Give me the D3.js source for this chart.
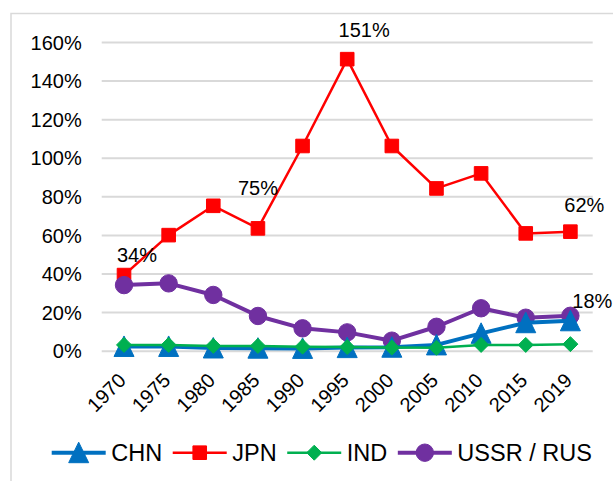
<!DOCTYPE html>
<html>
<head>
<meta charset="utf-8">
<script src="https://cdn.jsdelivr.net/npm/d3@7"></script>
<style>
  html, body { margin: 0; padding: 0; background: #fff; }
  svg { display: block; font-family: "Liberation Sans", Arial, sans-serif; }
</style>
</head>
<body>
<svg id="chart" width="613" height="481"></svg>
<script>
// ---- data ----
const years = ["1970","1975","1980","1985","1990","1995","2000","2005","2010","2015","2019"];
const chn  = [0.022, 0.022, 0.014, 0.013, 0.012, 0.016, 0.018, 0.030, 0.090, 0.145, 0.155];
const jpn  = [0.392, 0.599, 0.751, 0.634, 1.061, 1.511, 1.061, 0.841, 0.919, 0.608, 0.617];
const ind  = [0.030, 0.030, 0.025, 0.025, 0.021, 0.019, 0.016, 0.015, 0.030, 0.030, 0.034];
const ussr = [0.340, 0.349, 0.289, 0.180, 0.116, 0.095, 0.052, 0.124, 0.220, 0.171, 0.181];
const yTicks = [0, 0.2, 0.4, 0.6, 0.8, 1.0, 1.2, 1.4, 1.6];
const seriesNames = ["CHN", "JPN", "IND", "USSR / RUS"];
const labelTexts = ["34%", "75%", "151%", "62%", "18%"];

const svg = d3.select("#chart");

// frame
svg.append("rect").attr("x", 11).attr("y", 13.5).attr("width", 640).attr("height", 500)
  .attr("fill", "none").attr("stroke", "#d9d9d9").attr("stroke-width", 1.5);

const x = d3.scaleBand().domain(years).range([101.7, 592.7]).paddingInner(0).paddingOuter(0);
const cx = d => x(d) + x.bandwidth() / 2;
const y = d3.scaleLinear().domain([0, 1.6]).range([350.7, 42]);

// y axis with gridlines
const yAxis = d3.axisLeft(y).tickValues(yTicks).tickFormat(d3.format(".0%"))
  .tickSize(-(592.7 - 101.7)).tickPadding(20);
const gy = svg.append("g").attr("transform", "translate(101.7,0)").call(yAxis);
gy.select(".domain").remove();
gy.selectAll(".tick line").attr("stroke", "#d9d9d9").attr("stroke-width", 2);
gy.selectAll(".tick text").attr("fill", "#000").style("font-size", "20px")
  .style("font-family", "Liberation Sans, Arial, sans-serif").attr("dy", "0.36em");

// x axis labels
const xAxis = d3.axisBottom(x).tickSize(0).tickPadding(0);
const gx = svg.append("g").attr("transform", "translate(0,350.7)").call(xAxis);
gx.select(".domain").remove();
gx.selectAll(".tick text")
  .attr("fill", "#000").style("font-size", "20px")
  .style("font-family", "Liberation Sans, Arial, sans-serif")
  .attr("text-anchor", "end").attr("dy", null).attr("y", null)
  .attr("transform", "translate(3,31) rotate(-45)");

// marker shapes
function markerPath(kind) {
  if (kind === "tri") return "M0,-10.5L10,10L-10,10Z";
  if (kind === "sq") return "M-6.8,-6.8H6.8V6.8H-6.8Z";
  if (kind === "dia") return "M0,-7.5L7.5,0L0,7.5L-7.5,0Z";
  if (kind === "cir") return d3.symbol(d3.symbolCircle, Math.PI * 8.7 * 8.7)();
}

const series = [
  { name: seriesNames[1], values: jpn,  color: "#FF0000", lw: 2.5, shape: "sq" },
  { name: seriesNames[3], values: ussr, color: "#7030A0", lw: 4,   shape: "cir" },
  { name: seriesNames[0], values: chn,  color: "#0070C0", lw: 4,   shape: "tri" },
  { name: seriesNames[2], values: ind,  color: "#00B050", lw: 2.5, shape: "dia" }
];

const line = d3.line().x((d, i) => cx(years[i])).y(d => y(d));

series.forEach(s => {
  const g = svg.append("g");
  g.append("path").datum(s.values).attr("d", line)
    .attr("fill", "none").attr("stroke", s.color).attr("stroke-width", s.lw)
    .attr("stroke-linejoin", "round");
  g.selectAll("path.m").data(s.values).join("path").attr("class", "m")
    .attr("d", markerPath(s.shape))
    .attr("transform", (d, i) => `translate(${cx(years[i])},${y(d)})`)
    .attr("fill", s.color).attr("stroke", s.color).attr("stroke-width", 1);
});

// data labels
const lab = [
  { t: labelTexts[0], x: cx("1970") + 13, y: y(jpn[0]) - 13.5 },
  { t: labelTexts[1], x: cx("1985"),      y: y(jpn[2]) - 10.7 },
  { t: labelTexts[2], x: cx("1995") + 17, y: y(jpn[5]) - 21.7 },
  { t: labelTexts[3], x: cx("2019") + 14, y: y(jpn[10]) - 20 },
  { t: labelTexts[4], x: cx("2019") + 22, y: y(ussr[10]) - 7.4 }
];
svg.append("g").selectAll("text").data(lab).join("text")
  .attr("x", d => d.x).attr("y", d => d.y).attr("text-anchor", "middle")
  .style("font-size", "20px").attr("fill", "#000").text(d => d.t);

// legend
const legendOrder = [series[2], series[0], series[3], series[1]];
const lg = svg.append("g");
let lx = 51.7;
const ly = 452.7;
legendOrder.forEach(s => {
  lg.append("line").attr("x1", lx).attr("x2", lx + 54).attr("y1", ly).attr("y2", ly)
    .attr("stroke", s.color).attr("stroke-width", s.lw);
  lg.append("path").attr("d", markerPath(s.shape))
    .attr("transform", `translate(${lx + 27},${ly})`)
    .attr("fill", s.color).attr("stroke", s.color).attr("stroke-width", 1);
  const t = lg.append("text").attr("x", lx + 59.5).attr("y", ly + 8)
    .style("font-size", "23.5px").attr("fill", "#000").text(s.name);
  lx = lx + 59.5 + t.node().getComputedTextLength() + 10.6;
});
</script>
</body>
</html>
